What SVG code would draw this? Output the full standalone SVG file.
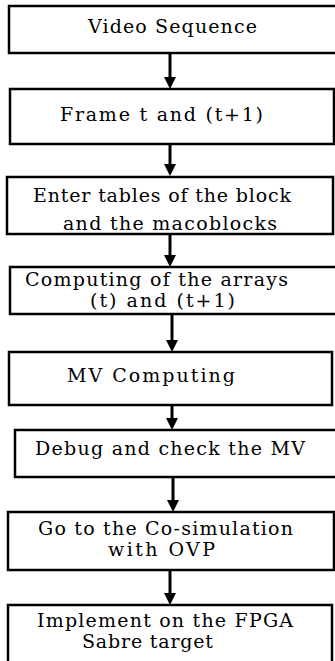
<svg xmlns="http://www.w3.org/2000/svg" width="335" height="661" viewBox="0 0 335 661">
<style>
.box{fill:#fff;stroke:#000;stroke-width:2.5}
.t{font-family:"DejaVu Serif","Liberation Serif",serif;font-size:19px;fill:#000}
.c{stroke:#000;stroke-width:3;fill:none}
</style>
<rect width="335" height="661" fill="#fff"/>
<g id="connectors">
<path class="c" d="M170,53 V77"/><path d="M164,77 L176,77 L170,89 Z"/>
<path class="c" d="M170,144 V164"/><path d="M164,164 L176,164 L170,176 Z"/>
<path class="c" d="M170,234 V255"/><path d="M164,255 L176,255 L170,267 Z"/>
<path class="c" d="M172,314 V340"/><path d="M166,340 L178,340 L172,352 Z"/>
<path class="c" d="M172,405 V418"/><path d="M166,418 L178,418 L172,430 Z"/>
<path class="c" d="M173,477 V500"/><path d="M167,500 L179,500 L173,512 Z"/>
<path class="c" d="M170,570 V593"/><path d="M164,593 L176,593 L170,605 Z"/>
</g>
<g id="n1"><rect class="box" x="9" y="6" width="330" height="47"/>
<text class="t" x="88" y="33" textLength="169" lengthAdjust="spacing">Video Sequence</text></g>
<g id="n2"><rect class="box" x="10" y="89" width="324" height="55"/>
<text class="t" x="60" y="121" textLength="203" lengthAdjust="spacing">Frame t and (t+1)</text></g>
<g id="n3"><rect class="box" x="7" y="177" width="326" height="57"/>
<text class="t" x="33" y="202" textLength="258" lengthAdjust="spacing">Enter tables of the block</text>
<text class="t" x="63" y="230" textLength="214" lengthAdjust="spacing">and the macoblocks</text></g>
<g id="n4"><rect class="box" x="10" y="267" width="330" height="47"/>
<text class="t" x="25" y="286" textLength="263" lengthAdjust="spacing">Computing of the arrays</text>
<text class="t" x="90" y="307" textLength="145" lengthAdjust="spacing">(t) and (t+1)</text></g>
<g id="n5"><rect class="box" x="9" y="352" width="323" height="53"/>
<text class="t" x="67" y="382" textLength="168" lengthAdjust="spacing">MV Computing</text></g>
<g id="n6"><rect class="box" x="15" y="430" width="325" height="47"/>
<text class="t" x="35" y="455" textLength="270" lengthAdjust="spacing">Debug and check the MV</text></g>
<g id="n7"><rect class="box" x="8" y="512" width="326" height="58"/>
<text class="t" x="38" y="535" textLength="255" lengthAdjust="spacing">Go to the Co-simulation</text>
<text class="t" x="108" y="556" textLength="107" lengthAdjust="spacing">with OVP</text></g>
<g id="n8"><rect class="box" x="8" y="605" width="324" height="60"/>
<text class="t" x="37" y="627" textLength="256" lengthAdjust="spacing">Implement on the FPGA</text>
<text class="t" x="82" y="648" textLength="131" lengthAdjust="spacing">Sabre target</text></g>
</svg>
